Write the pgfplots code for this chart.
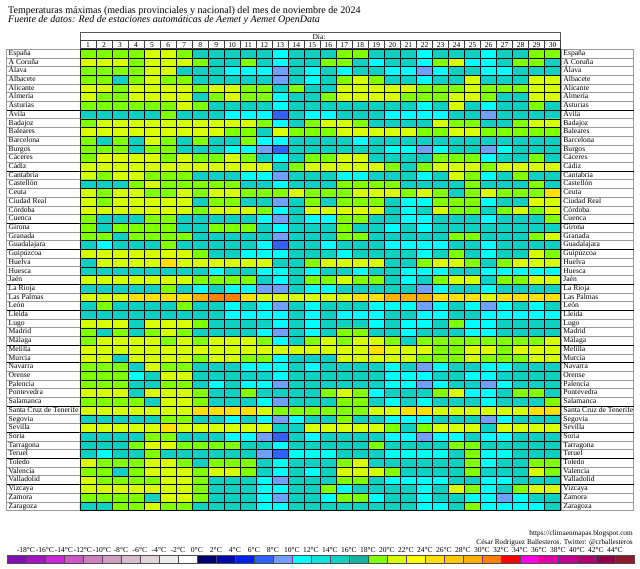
\documentclass[border=0pt]{standalone}
\usepackage{pgfplots}
\pgfplotsset{compat=1.18}
\usepackage{fontspec}
\setmainfont{Liberation Serif}
\pgfplotsset{colormap={tmax}{rgb255=(48,96,255) rgb255=(112,160,255) rgb255=(0,255,255) rgb255=(12,228,220) rgb255=(16,208,196) rgb255=(24,178,160) rgb255=(128,255,0) rgb255=(216,255,0) rgb255=(255,255,0) rgb255=(255,224,0) rgb255=(255,200,0) rgb255=(255,176,0) rgb255=(255,128,0)}}
\def\provs{España,A Coruña,Álava,Albacete,Alicante,Almería,Asturias,Ávila,Badajoz,Baleares,Barcelona,Burgos,Cáceres,Cádiz,Cantabria,Castellón,Ceuta,Ciudad Real,Córdoba,Cuenca,Girona,Granada,Guadalajara,Guipúzcoa,Huelva,Huesca,Jaén,La Rioja,Las Palmas,León,Lleida,Lugo,Madrid,Málaga,Melilla,Murcia,Navarra,Orense,Palencia,Pontevedra,Salamanca,Santa Cruz de Tenerife,Segovia,Sevilla,Soria,Tarragona,Teruel,Toledo,Valencia,Valladolid,Vizcaya,Zamora,Zaragoza}
\begin{document}
\begin{tikzpicture}[x=1pt,y=1pt]
\path (0,0) rectangle (640,569);
% title
\node[anchor=base west,inner sep=0,font=\fontsize{10.05}{12}\selectfont] at (8,555) {Temperaturas máximas (medias provinciales y nacional) del mes de noviembre de 2024};
\node[anchor=base west,inner sep=0,font=\fontsize{10}{12}\selectfont\itshape] at (8,546.3) {Fuente de datos: Red de estaciones automáticas de Aemet y Aemet OpenData};
% label boxes
\foreach \i in {0,...,52}{
  \pgfmathsetmacro{\yt}{519.7-8.706*\i}
  \pgfmathsetmacro{\yb}{519.7-8.706*(\i+1)}
  \draw[gray!80,line width=0.9pt,fill=white] (6.9,\yb) rectangle (80,\yt);
  \draw[gray!80,line width=0.9pt,fill=white] (561,\yb) rectangle (633.7,\yt);
}
\foreach \i in {7,14,20,23,27,30,34,36,41,44,47,50}{
  \pgfmathsetmacro{\yt}{519.7-8.706*\i}
  \draw[black,line width=0.7pt] (6.9,\yt) -- (80,\yt);
  \draw[black,line width=0.7pt] (561,\yt) -- (633.7,\yt);
}
% header
\draw[gray!70!black,line width=0.8pt,fill=white] (80,528.3) rectangle (560.7,536.8);
\node[font=\fontsize{7.5}{9}\selectfont,inner sep=0] at (319,532.5) {Día:};
\foreach \i in {0,...,29}{
  \draw[gray!50!black,line width=0.8pt,fill=white] (80+16.02*\i,520.4) rectangle (96.02+16.02*\i,528.3);
}
\begin{axis}[at={(80pt,58.3pt)},anchor=south west,scale only axis,width=480.7pt,height=461.4pt,
  xmin=0.5,xmax=30.5,ymin=-0.5,ymax=52.5,y dir=reverse,
  xtick={1,...,30},xticklabels={1,2,3,4,5,6,7,8,9,10,11,12,13,14,15,16,17,18,19,20,21,22,23,24,25,26,27,28,29,30},
  xticklabel pos=upper,
  xticklabel style={font=\fontsize{7.5}{9}\selectfont,inner sep=0,yshift=1.5pt,text height=5pt,text depth=0pt},
  ytick={0,...,52},yticklabels/.expand once={\provs},
  yticklabel style={font=\fontsize{7.6}{9}\selectfont,anchor=west,inner sep=0,xshift=-71.5pt,text height=5pt,text depth=1.5pt},
  minor xtick={0.5,1.5,...,30.5},minor ytick={-0.5,0.5,...,52.5},
  xminorgrids,yminorgrids,minor grid style={black,line width=0.75pt},
  axis on top,major tick length=0pt,minor tick length=0pt,axis line style={black,line width=0.7pt},
  colormap name=tmax,colormap access=direct,clip=false]
\addplot[matrix plot*,mesh/cols=30,mesh/rows=53,point meta=explicit]
 table[row sep=crcr,header=false,x expr={mod(\coordindex+0.5,30)+0.5},y expr={floor((\coordindex+0.5)/30)},meta expr={\thisrowno{0}/2-3}]{
18\\18\\18\\18\\20\\20\\18\\16\\16\\16\\16\\14\\10\\14\\16\\16\\18\\18\\16\\14\\14\\12\\16\\16\\16\\12\\14\\16\\18\\18\\
20\\22\\22\\18\\20\\22\\22\\18\\14\\16\\18\\16\\12\\16\\16\\18\\18\\16\\12\\14\\14\\12\\18\\20\\12\\12\\14\\18\\18\\16\\
18\\18\\18\\18\\20\\20\\16\\14\\14\\12\\12\\10\\8\\14\\12\\14\\12\\14\\14\\12\\12\\8\\12\\16\\14\\10\\12\\14\\16\\16\\
18\\18\\16\\18\\20\\18\\18\\16\\16\\16\\16\\14\\8\\14\\12\\14\\18\\20\\18\\16\\14\\12\\16\\16\\20\\14\\16\\16\\20\\20\\
20\\20\\18\\20\\22\\20\\20\\18\\22\\20\\18\\18\\14\\18\\16\\16\\20\\20\\22\\20\\20\\18\\18\\18\\20\\18\\18\\18\\22\\20\\
20\\18\\18\\20\\20\\20\\20\\16\\18\\20\\18\\18\\12\\16\\16\\18\\20\\20\\20\\20\\18\\18\\18\\20\\20\\18\\16\\16\\20\\20\\
18\\18\\18\\18\\18\\18\\20\\18\\14\\14\\14\\14\\12\\14\\14\\14\\14\\14\\14\\14\\14\\10\\16\\20\\14\\12\\14\\16\\18\\16\\
16\\16\\16\\16\\16\\18\\16\\14\\14\\12\\12\\10\\6\\14\\12\\12\\16\\16\\14\\12\\10\\10\\12\\14\\14\\8\\14\\14\\14\\16\\
18\\22\\20\\20\\22\\22\\22\\20\\20\\20\\20\\18\\12\\14\\18\\20\\20\\18\\16\\14\\16\\16\\20\\18\\18\\14\\16\\18\\20\\22\\
22\\22\\22\\22\\22\\22\\22\\20\\20\\18\\18\\16\\20\\18\\18\\18\\20\\20\\20\\20\\20\\18\\18\\20\\20\\18\\18\\18\\18\\18\\
18\\16\\18\\16\\20\\18\\16\\18\\16\\16\\18\\12\\12\\16\\14\\16\\16\\12\\16\\14\\14\\14\\14\\16\\16\\14\\14\\16\\16\\14\\
18\\18\\18\\16\\18\\18\\16\\14\\14\\12\\12\\8\\6\\14\\14\\14\\14\\14\\14\\10\\10\\8\\12\\16\\16\\8\\10\\14\\16\\14\\
18\\20\\20\\20\\20\\18\\20\\18\\18\\20\\18\\16\\10\\14\\18\\18\\20\\20\\14\\16\\14\\16\\18\\18\\18\\12\\14\\16\\18\\14\\
20\\22\\22\\22\\22\\22\\20\\20\\20\\22\\20\\20\\16\\18\\20\\20\\20\\20\\20\\18\\16\\18\\20\\20\\20\\18\\20\\20\\20\\22\\
20\\18\\20\\20\\18\\18\\18\\16\\14\\14\\12\\10\\8\\14\\14\\16\\12\\12\\14\\14\\14\\10\\16\\20\\18\\10\\14\\18\\14\\16\\
16\\16\\16\\18\\20\\18\\18\\18\\18\\18\\16\\14\\12\\16\\14\\14\\18\\18\\18\\18\\16\\14\\14\\16\\18\\14\\14\\16\\18\\16\\
20\\18\\20\\20\\18\\18\\20\\18\\22\\22\\18\\18\\18\\20\\18\\18\\18\\20\\20\\20\\18\\20\\18\\16\\18\\20\\18\\18\\18\\24\\
20\\18\\20\\20\\20\\20\\20\\16\\18\\18\\16\\14\\8\\16\\18\\16\\18\\18\\18\\14\\12\\12\\18\\18\\18\\12\\16\\16\\20\\20\\
20\\22\\22\\22\\22\\22\\22\\18\\20\\20\\20\\18\\10\\16\\20\\20\\20\\20\\20\\16\\12\\16\\20\\18\\18\\16\\18\\20\\18\\20\\
18\\16\\16\\16\\18\\18\\16\\14\\16\\16\\16\\12\\8\\14\\12\\12\\18\\18\\16\\14\\10\\12\\14\\14\\16\\12\\14\\14\\16\\18\\
18\\16\\18\\18\\18\\18\\16\\16\\18\\18\\18\\14\\10\\14\\14\\16\\18\\14\\16\\12\\14\\12\\14\\16\\16\\14\\14\\16\\16\\16\\
18\\18\\16\\18\\18\\18\\18\\16\\16\\16\\16\\14\\8\\14\\16\\16\\18\\18\\16\\16\\14\\14\\16\\18\\18\\16\\16\\14\\18\\20\\
16\\12\\16\\16\\16\\18\\16\\14\\14\\14\\14\\10\\6\\14\\14\\12\\16\\16\\16\\12\\10\\10\\12\\14\\14\\10\\14\\14\\14\\16\\
20\\20\\20\\20\\22\\20\\20\\18\\16\\16\\12\\10\\10\\14\\14\\16\\12\\14\\16\\14\\14\\10\\14\\18\\16\\10\\16\\14\\20\\18\\
16\\22\\22\\20\\22\\24\\22\\20\\20\\22\\22\\20\\14\\16\\18\\20\\20\\20\\20\\16\\16\\18\\20\\20\\18\\16\\18\\20\\20\\22\\
16\\16\\16\\16\\16\\16\\14\\14\\12\\14\\14\\12\\12\\14\\12\\14\\14\\12\\14\\14\\12\\10\\10\\14\\14\\10\\12\\10\\12\\10\\
20\\20\\20\\20\\20\\22\\20\\18\\18\\18\\18\\16\\10\\16\\18\\18\\20\\18\\18\\16\\12\\14\\18\\20\\20\\16\\18\\18\\20\\22\\
16\\16\\16\\16\\16\\18\\16\\12\\14\\12\\12\\8\\8\\14\\10\\12\\14\\14\\14\\14\\14\\8\\10\\14\\14\\10\\14\\14\\14\\16\\
22\\22\\22\\24\\24\\26\\26\\28\\30\\30\\24\\22\\22\\20\\22\\22\\22\\24\\24\\28\\28\\28\\26\\24\\24\\22\\26\\26\\24\\26\\
16\\18\\16\\14\\14\\16\\18\\14\\14\\12\\14\\10\\8\\14\\12\\14\\16\\14\\12\\10\\10\\8\\12\\14\\12\\8\\10\\14\\12\\14\\
16\\14\\14\\16\\16\\16\\14\\14\\14\\12\\12\\10\\10\\14\\12\\14\\12\\10\\12\\14\\14\\10\\10\\14\\14\\10\\12\\10\\10\\12\\
20\\20\\20\\16\\20\\20\\20\\18\\14\\16\\16\\14\\12\\14\\12\\14\\16\\14\\12\\14\\12\\10\\16\\18\\12\\12\\14\\16\\16\\16\\
18\\16\\18\\16\\18\\20\\18\\14\\16\\16\\16\\12\\8\\14\\12\\14\\18\\18\\16\\14\\12\\14\\14\\14\\12\\10\\14\\14\\16\\16\\
18\\20\\20\\22\\20\\18\\20\\18\\20\\20\\20\\18\\12\\16\\18\\20\\18\\20\\20\\18\\14\\18\\18\\18\\18\\18\\18\\18\\18\\22\\
20\\22\\20\\22\\22\\20\\20\\20\\22\\22\\20\\20\\20\\22\\20\\20\\20\\22\\24\\22\\20\\20\\18\\18\\22\\22\\18\\20\\20\\22\\
22\\20\\16\\20\\22\\20\\20\\18\\20\\22\\18\\18\\12\\16\\16\\16\\20\\22\\22\\20\\20\\18\\18\\18\\20\\18\\18\\18\\22\\22\\
18\\18\\18\\16\\20\\18\\18\\16\\14\\14\\12\\10\\10\\14\\12\\14\\14\\14\\14\\12\\14\\8\\12\\16\\16\\10\\12\\14\\14\\16\\
18\\18\\18\\12\\16\\20\\20\\16\\14\\14\\16\\14\\12\\14\\14\\14\\16\\16\\14\\12\\12\\10\\16\\16\\10\\10\\14\\14\\16\\14\\
18\\18\\18\\16\\16\\18\\18\\16\\12\\14\\12\\10\\8\\14\\14\\14\\16\\14\\14\\12\\10\\8\\12\\16\\14\\8\\10\\14\\14\\14\\
22\\22\\22\\16\\20\\20\\22\\18\\16\\16\\18\\16\\14\\16\\16\\18\\20\\18\\12\\14\\14\\14\\18\\20\\12\\12\\16\\18\\18\\16\\
18\\18\\18\\18\\16\\20\\20\\18\\16\\14\\14\\12\\8\\14\\16\\16\\18\\18\\14\\12\\14\\12\\14\\16\\16\\10\\14\\14\\16\\18\\
20\\20\\20\\22\\22\\22\\22\\24\\26\\26\\24\\20\\18\\18\\18\\18\\18\\18\\20\\22\\24\\24\\20\\20\\20\\20\\20\\22\\24\\24\\
16\\16\\16\\16\\16\\18\\18\\16\\14\\12\\14\\10\\8\\12\\14\\14\\18\\16\\14\\12\\10\\10\\14\\14\\14\\8\\12\\14\\16\\16\\
20\\22\\22\\22\\22\\24\\22\\20\\22\\22\\22\\20\\14\\16\\20\\22\\20\\20\\22\\18\\14\\18\\20\\20\\20\\16\\20\\20\\20\\22\\
16\\16\\16\\14\\18\\18\\16\\14\\14\\12\\12\\8\\6\\14\\12\\14\\16\\16\\14\\10\\10\\8\\12\\12\\14\\10\\12\\14\\14\\16\\
16\\16\\16\\18\\20\\20\\18\\18\\18\\18\\16\\14\\10\\16\\14\\16\\16\\16\\18\\16\\16\\14\\16\\18\\18\\14\\14\\14\\14\\14\\
14\\12\\14\\16\\18\\16\\16\\14\\14\\14\\14\\8\\6\\12\\12\\12\\16\\16\\16\\12\\12\\10\\12\\14\\18\\10\\12\\14\\16\\14\\
20\\18\\18\\18\\20\\20\\18\\16\\18\\18\\18\\14\\10\\16\\16\\16\\18\\20\\16\\16\\14\\14\\16\\16\\18\\12\\14\\14\\18\\18\\
18\\18\\16\\18\\22\\20\\20\\18\\20\\20\\18\\16\\12\\16\\12\\14\\20\\20\\20\\18\\16\\16\\16\\16\\18\\16\\14\\16\\22\\18\\
20\\18\\18\\18\\18\\20\\20\\18\\16\\14\\14\\12\\8\\16\\16\\16\\18\\18\\16\\12\\12\\10\\12\\14\\16\\10\\10\\14\\16\\16\\
22\\20\\22\\20\\20\\22\\20\\18\\16\\14\\14\\12\\10\\14\\16\\18\\12\\14\\16\\14\\16\\10\\16\\20\\18\\12\\16\\18\\20\\20\\
18\\18\\18\\18\\16\\20\\20\\18\\16\\14\\16\\12\\8\\14\\16\\12\\18\\18\\12\\14\\14\\10\\14\\16\\12\\10\\8\\10\\14\\14\\
16\\16\\18\\18\\20\\18\\18\\16\\16\\16\\16\\12\\10\\16\\14\\14\\16\\16\\16\\14\\16\\12\\12\\16\\18\\12\\12\\12\\12\\14\\
};
\end{axis}
\begin{axis}[at={(80pt,58.3pt)},anchor=south west,scale only axis,width=480.7pt,height=461.4pt,
  xmin=0.5,xmax=30.5,ymin=-0.5,ymax=52.5,y dir=reverse,xtick=\empty,
  ytick={0,...,52},yticklabels/.expand once={\provs},yticklabel pos=right,
  yticklabel style={font=\fontsize{7.6}{9}\selectfont,anchor=west,inner sep=0,xshift=2.5pt,text height=5pt,text depth=1.5pt},
  major tick length=0pt,axis line style={draw=none}]
\end{axis}
% footer
\node[anchor=base east,inner sep=0,font=\fontsize{7.3}{9}\selectfont] at (633,33.3) {https://climaenmapas.blogspot.com};
\node[anchor=base east,inner sep=0,font=\fontsize{7.3}{9}\selectfont] at (633,24.3) {César Rodríguez Ballesteros. Twitter: @crballesteros};
% colour key
\foreach \h [count=\i from 0] in {8010B0,A015C0,C828D8,CC58C8,CC80BC,D0A0C4,D8BCD0,E4D4DC,EEEEEE,FFFFFF,000070,0008A8,0020F0,3060FF,70A0FF,00FFFF,0CE4DC,10D0C4,18B2A0,80FF00,D8FF00,FFFF00,FFE000,FFC800,FFB000,FF8000,FF0000,FF00E0,E000A8,C00090,B00070,900048,8B1A2A}{
  \definecolor{tmpkey}{HTML}{\h}
  \draw[gray!60!black,line width=0.7pt,fill=tmpkey] (6.9+19*\i,5.3) rectangle (25.9+19*\i,14);
}
\foreach \t [count=\i] in {-18,-16,-14,-12,-10,-8,-6,-4,-2,0,2,4,6,8,10,12,14,16,18,20,22,24,26,28,30,32,34,36,38,40,42,44}{
  \node[anchor=base,inner sep=0,font=\fontsize{7.6}{9}\selectfont] at (6.9+19*\i,16.3) {\t°C};
}
\end{tikzpicture}
\end{document}
